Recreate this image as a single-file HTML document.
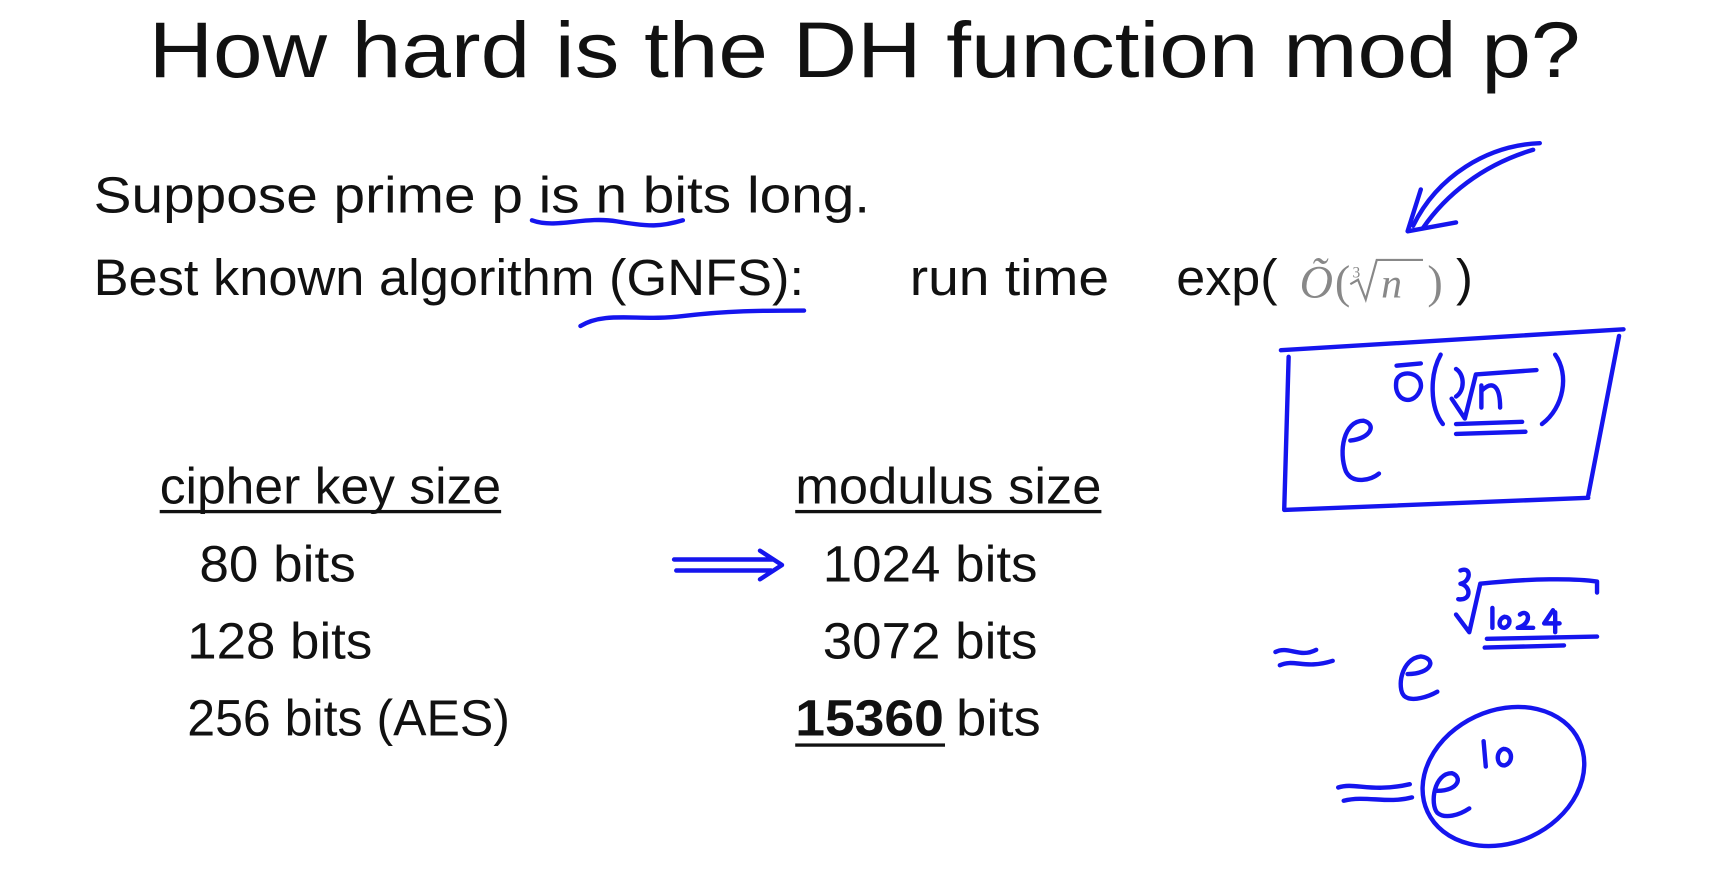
<!DOCTYPE html>
<html><head><style>html,body{margin:0;padding:0;background:#fff;overflow:hidden}</style></head>
<body>
<svg width="1727" height="880" viewBox="0 0 1568 799" preserveAspectRatio="none" xmlns="http://www.w3.org/2000/svg">
<rect width="1568" height="799" fill="#fff"/>
<g font-family="Liberation Sans, sans-serif" fill="#111">
<text x="135" y="70" font-size="72" textLength="1300" lengthAdjust="spacingAndGlyphs">How hard is the DH function mod p?</text>
<text x="85" y="193" font-size="46" textLength="705" lengthAdjust="spacingAndGlyphs">Suppose prime  p  is  n  bits long.</text>
<text x="85" y="268" font-size="46" textLength="645" lengthAdjust="spacingAndGlyphs">Best known algorithm (GNFS):</text>
<text x="826" y="268" font-size="46" textLength="181" lengthAdjust="spacingAndGlyphs">run time</text>
<text x="1068" y="268" font-size="46" textLength="92" lengthAdjust="spacingAndGlyphs">exp(</text>
<text x="1180" y="270" font-size="42" fill="#888" font-family="Liberation Serif, serif" font-style="italic">Õ</text>
<text x="1212" y="270" font-size="42" fill="#888" font-family="Liberation Serif, serif">(</text>
<text x="1228" y="252" font-size="14" fill="#888" font-family="Liberation Serif, serif">3</text>
<path d="M1226 258 L1233 254 L1240 272 L1250 236 L1292 236" stroke="#888" stroke-width="2" fill="none"/>
<text x="1254" y="270" font-size="38" fill="#888" font-family="Liberation Serif, serif" font-style="italic">n</text>
<text x="1296" y="270" font-size="42" fill="#888" font-family="Liberation Serif, serif">)</text>
<text x="1322" y="268" font-size="46">)</text>

<text x="145" y="457" font-size="46" textLength="310" lengthAdjust="spacingAndGlyphs">cipher key size</text>
<rect x="145" y="463" width="310" height="3"/>
<text x="722" y="457" font-size="46" textLength="278" lengthAdjust="spacingAndGlyphs">modulus size</text>
<rect x="722" y="463" width="278" height="3"/>
<text x="181" y="528" font-size="46" textLength="142" lengthAdjust="spacingAndGlyphs">80 bits</text>
<text x="170" y="598" font-size="46" textLength="168" lengthAdjust="spacingAndGlyphs">128 bits</text>
<text x="170" y="668" font-size="46" textLength="293" lengthAdjust="spacingAndGlyphs">256 bits (AES)</text>
<text x="747" y="528" font-size="46" textLength="195" lengthAdjust="spacingAndGlyphs">1024 bits</text>
<text x="747" y="598" font-size="46" textLength="195" lengthAdjust="spacingAndGlyphs">3072 bits</text>
<text x="722" y="668" font-size="46" font-weight="bold" textLength="135" lengthAdjust="spacingAndGlyphs">15360</text>
<rect x="722" y="675" width="136" height="3"/>
<text x="868" y="668" font-size="46" textLength="77" lengthAdjust="spacingAndGlyphs">bits</text>
</g>
<g stroke="#1515ee" stroke-width="4" fill="none" stroke-linecap="round" stroke-linejoin="round">
<path d="M483 200 C505 208 530 196 560 201 S600 206 620 200"/>
<path d="M527 296 C550 282 580 292 620 287 S690 282 730 282"/>
<path d="M1398 130 C1350 132 1305 160 1283 205"/>
<path d="M1392 136 C1345 150 1312 178 1292 207"/>
<path d="M1290 172 L1278 210 L1322 202"/>
<path d="M1163 318 L1474 299"/>
<path d="M1470 305 L1442 450"/>
<path d="M1442 452 L1166 463"/>
<path d="M1170 324 L1166 462"/>
<path d="M1226 400 C1245 398 1250 385 1238 382 C1220 382 1215 410 1222 428 C1228 440 1245 436 1252 430"/>
<path d="M1268 345 C1264 365 1285 370 1290 352 C1292 338 1272 335 1268 345"/>
<path d="M1268 332 L1290 330"/>
<path d="M1308 322 C1298 340 1298 370 1310 385"/>
<path d="M1322 335 C1330 340 1330 355 1322 360 M1318 362 L1330 380 L1340 340 L1395 336"/>
<path d="M1345 350 L1345 370 M1345 355 C1355 345 1362 350 1362 370"/>
<path d="M1412 322 C1425 340 1420 370 1400 385"/>
<path d="M1322 385 L1382 383 M1322 394 L1385 392"/>
<path d="M612 508 L702 508 M614 518 L700 518 M690 500 L710 513 L690 526"/>
<path d="M1158 592 C1170 586 1180 598 1195 590 M1162 604 C1175 598 1185 608 1210 600"/>
<path d="M1278 612 C1300 612 1305 598 1290 596 C1272 598 1268 625 1275 632 C1282 638 1298 632 1305 628"/>
<path d="M1326 518 C1336 514 1336 528 1326 530 C1336 532 1336 546 1324 544"/>
<path d="M1322 558 L1334 574 L1344 530 C1390 525 1430 525 1450 528 L1450 538"/>
<path d="M1355 552 L1355 570 M1366 560 C1360 562 1360 570 1366 570 C1372 568 1372 560 1366 560 M1380 558 C1388 552 1392 566 1378 570 L1392 570 M1410 554 L1402 566 L1416 566 M1412 556 L1412 574"/>
<path d="M1350 580 L1450 578 M1348 588 L1420 586"/>
<path d="M1215 715 C1230 710 1245 720 1280 712 M1220 727 C1240 722 1260 730 1282 724"/>
<ellipse cx="1365" cy="705" rx="76" ry="60" transform="rotate(-25 1365 705)"/>
<path d="M1305 718 C1325 718 1328 705 1318 702 C1302 702 1298 730 1305 738 C1312 744 1325 740 1334 734"/>
<path d="M1347 673 L1349 696 M1365 680 C1358 682 1358 695 1366 695 C1374 693 1374 680 1365 680"/>
</g>
</svg>
</body></html>
